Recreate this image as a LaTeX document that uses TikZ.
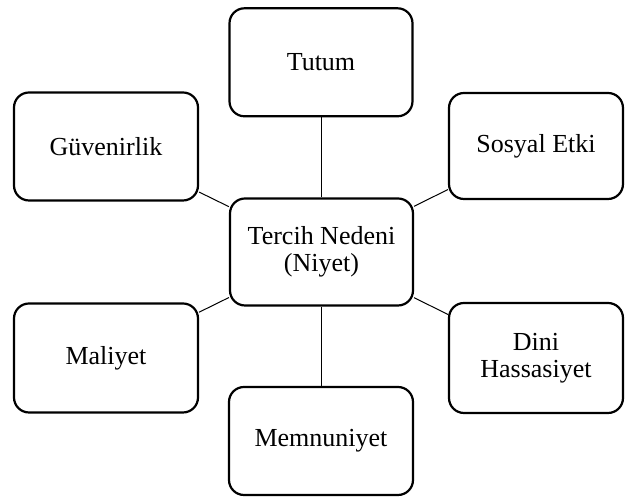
\documentclass[tikz,border=0pt]{standalone}
\usepackage{fontspec}
\setmainfont{Liberation Serif}
\begin{document}
\begin{tikzpicture}[x=1pt,y=1pt,
  box/.style={draw=black, line width=2.2pt, rounded corners=15pt, fill=white,
    align=center, inner sep=2pt, font=\fontsize{26}{27}\selectfont},
  link/.style={draw=black, line width=1pt}]
  \useasboundingbox (0,0) rectangle (625,497);
  % surrounding factors and the central intention node
  \node[box, minimum width=183pt, minimum height=108pt] (tutum) at (321,434.7) {Tutum};
  \node[box, minimum width=184pt, minimum height=108pt] (guven) at (106,350.5) {Güvenirlik};
  \node[box, minimum width=174pt, minimum height=106pt] (sosyal) at (536,351) {Sosyal Etki};
  \node[box, minimum width=183pt, minimum height=107pt] (tercih) at (321.5,245) {Tercih Nedeni\\(Niyet)};
  \node[box, minimum width=184pt, minimum height=109pt] (maliyet) at (106,139) {Maliyet};
  \node[box, minimum width=174pt, minimum height=110pt] (dini) at (536,139) {Dini\\Hassasiyet};
  \node[box, minimum width=184pt, minimum height=108pt] (memnun) at (321,56) {Memnuniyet};
  % links to the central node
  \draw[link] (tutum.south) -- (tutum.south |- tercih.north);
  \draw[link] (guven) -- (tercih);
  \draw[link] (sosyal) -- (tercih);
  \draw[link] (maliyet) -- (tercih);
  \draw[link] (dini) -- (tercih);
  \draw[link] (memnun.north) -- (memnun.north |- tercih.south);
\end{tikzpicture}
\end{document}
